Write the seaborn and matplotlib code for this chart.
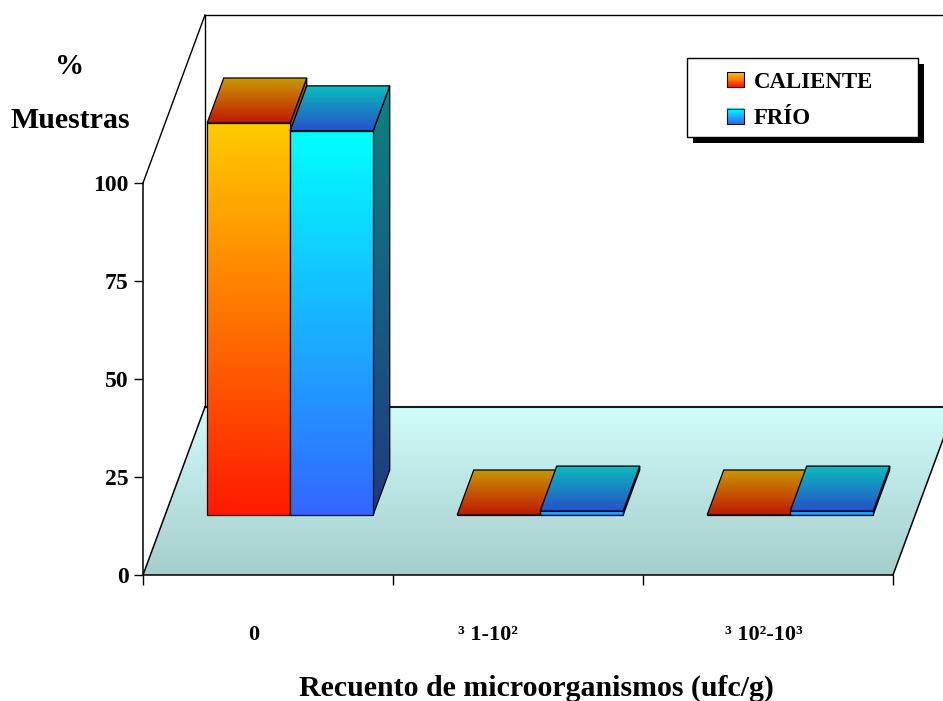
import numpy as np
import pandas as pd
import matplotlib
matplotlib.use("Agg")
import matplotlib.pyplot as plt
from matplotlib.patches import Polygon, Rectangle
from matplotlib.colors import LinearSegmentedColormap
from matplotlib.legend_handler import HandlerBase
import seaborn as sns

# ---- data -------------------------------------------------------------
categories = ["0", "³ 1-10²", "³ 10²-10³"]
series = ["CALIENTE", "FRÍO"]
caliente = [100, 0, 0]
frio = [98, 1, 1]
y_ticks = [0, 25, 50, 75, 100]
label_shift = [-0.056, -0.12, -0.016]

plt.rcParams["font.family"] = ["Liberation Serif", "DejaVu Serif"]
plt.rcParams["font.weight"] = "bold"

df = pd.DataFrame({
    "recuento": categories * 2,
    "grupo": [series[0]] * len(categories) + [series[1]] * len(categories),
    "pct": caliente + frio,
})

# colour ramps (top colour, bottom colour) for each face of each series
front_cols = {"CALIENTE": ("#FFCC00", "#FF1A00"), "FRÍO": ("#00FFFF", "#3366FF")}
top_cols = {"CALIENTE": ("#C89A00", "#C01800"), "FRÍO": ("#08BEBE", "#2850C8")}
side_cols = {"CALIENTE": ("#A05000", "#801000"), "FRÍO": ("#108080", "#203A80")}
floor_cols = ("#D0FCFA", "#A5CDCC")

W, H = 943, 701
fig = plt.figure(figsize=(W / 100, H / 100), dpi=100)
ax = fig.add_axes([143 / W, 1 - 575 / H, 750 / W, 392 / H])
ax.patch.set_alpha(0)

sns.barplot(data=df, x="recuento", y="pct", hue="grupo", order=categories,
            hue_order=series, width=0.664, dodge=True, saturation=1,
            legend=False, ax=ax)

# oblique depth vector of the floor, in data units
DX, DY = 62 / 250, 168 / 3.92
F1, F2 = 60 / 168, 105 / 168  # front / back depth of the columns


def gradient(poly_xy, top, bottom, z):
    clip = Polygon(poly_xy, closed=True, transform=ax.transData)
    xs = [p[0] for p in poly_xy]
    ys = [p[1] for p in poly_xy]
    cmap = LinearSegmentedColormap.from_list("ramp", [bottom, top])
    im = ax.imshow(np.linspace(0, 1, 256).reshape(-1, 1), cmap=cmap,
                   origin="lower", aspect="auto", interpolation="bilinear",
                   extent=(min(xs), max(xs), min(ys), max(ys)), zorder=z)
    im.set_clip_box(fig.bbox)
    im.set_clip_path(clip)
    return im


def outline(poly_xy, z, lw=0.9):
    ax.add_patch(Polygon(poly_xy, closed=True, facecolor="none",
                         edgecolor="black", lw=lw, clip_on=False, zorder=z))


# floor and walls
floor = [(-0.5, 0), (2.5, 0), (2.5 + DX, DY), (-0.5 + DX, DY)]
gradient(floor, floor_cols[0], floor_cols[1], 1)
ax.plot([-0.5, -0.5 + DX], [0, DY], color="black", lw=1.1, clip_on=False, zorder=2)
ax.plot([2.5, 2.5 + DX], [0, DY], color="black", lw=1.1, clip_on=False, zorder=2)
ax.plot([-0.5 + DX, 2.5 + DX], [DY, DY], color="#1A1A1A", lw=1.5,
        clip_on=False, zorder=2)
ax.plot([-0.5 + DX, -0.5 + DX, 2.5 + DX], [DY, 100 + DY, 100 + DY],
        color="black", lw=1.0, clip_on=False, zorder=2)
ax.plot([-0.5, -0.5 + DX], [100, 100 + DY], color="black", lw=1.0,
        clip_on=False, zorder=2)

# columns: move each seaborn bar back into the box and give it depth
for j, (name, cont) in enumerate(zip(series, ax.containers)):
    for i, bar in enumerate(cont.patches):
        x0, w, h = bar.get_x(), bar.get_width(), bar.get_height()
        xa, xb = x0 + F1 * DX, x0 + w + F1 * DX
        xc, xd = x0 + F2 * DX, x0 + w + F2 * DX
        ya, yb = F1 * DY, F2 * DY
        z = 10 + i * 10 + j * 5
        side = [(xb, ya), (xb, ya + h), (xd, yb + h), (xd, yb)]
        top = [(xa, ya + h), (xb, ya + h), (xd, yb + h), (xc, yb + h)]
        front = [(xa, ya), (xb, ya), (xb, ya + h), (xa, ya + h)]
        if h > 0:
            gradient(side, *side_cols[name], z)
            outline(side, z + 0.5)
            gradient(front, *front_cols[name], z + 1)
        bar.set_x(xa)
        bar.set_y(ya)
        bar.set_facecolor("none")
        bar.set_edgecolor("black")
        bar.set_linewidth(0.9)
        bar.set_clip_on(False)
        bar.set_zorder(z + 1.5)
        gradient(top, *top_cols[name], z + 2)
        outline(top, z + 2.5)

ax.set_xlim(-0.5, 2.5)
ax.set_ylim(0, 100)

for s in ("top", "right"):
    ax.spines[s].set_visible(False)
for s in ("left", "bottom"):
    ax.spines[s].set_linewidth(1.1)
    ax.spines[s].set_zorder(3)

ax.set_yticks(y_ticks)
ax.set_yticklabels([str(t) for t in y_ticks], fontsize=17, fontweight="bold")
ax.tick_params(axis="y", length=6.5, width=1, pad=4, direction="out")
ax.set_xticks([-0.5, 0.5, 1.5, 2.5])
ax.set_xticklabels([])
ax.tick_params(axis="x", length=7.5, width=1, direction="out")
ax.set_xlabel("")
ax.set_ylabel("")

for i, (lab, sh) in enumerate(zip(categories, label_shift)):
    ax.annotate(lab, xy=(i + sh, 0), xycoords=("data", "axes fraction"),
                xytext=(0, -43), textcoords="offset points", ha="center",
                va="center", fontsize=16, fontweight="bold")

fig.text(70 / W, 1 - 67 / H, "%", ha="center", va="center", fontsize=21,
         fontweight="bold")
fig.text(70 / W, 1 - 120 / H, "Muestras", ha="center", va="center",
         fontsize=21.5, fontweight="bold")
fig.text(536 / W, 1 - 688 / H, "Recuento de microorganismos (ufc/g)",
         ha="center", va="center", fontsize=21.5, fontweight="bold")


# legend with gradient swatches
class GradientSwatch(HandlerBase):
    def __init__(self, top, bottom):
        super().__init__()
        self.cmap = LinearSegmentedColormap.from_list("sw", [bottom, top])

    def create_artists(self, legend, orig_handle, xdescent, ydescent,
                       width, height, fontsize, trans):
        n = 14
        arts = []
        for k in range(n):
            arts.append(Rectangle((-xdescent, -ydescent + height * k / n),
                                  width, height / n + 0.05,
                                  facecolor=self.cmap(k / (n - 1)),
                                  edgecolor="none", transform=trans))
        arts.append(Rectangle((-xdescent, -ydescent), width, height,
                              facecolor="none", edgecolor="black", lw=0.8,
                              transform=trans))
        return arts


fig.patches.append(Rectangle((693 / W, 1 - 143 / H), 231 / W, 79 / H,
                             transform=fig.transFigure, facecolor="black",
                             edgecolor="none", zorder=1))
fig.patches.append(Rectangle((687 / W, 1 - 137 / H), 231 / W, 79 / H,
                             transform=fig.transFigure, facecolor="white",
                             edgecolor="black", lw=1, zorder=1.1))

handles = [Rectangle((0, 0), 1, 1) for _ in series]
fig.legend(handles, series, loc="center",
           bbox_to_anchor=(800 / W, 1 - 100.5 / H), frameon=False,
           prop={"family": "Liberation Serif", "weight": "bold", "size": 16.5},
           handlelength=0.74, handleheight=0.66, handletextpad=0.45,
           labelspacing=0.68,
           handler_map={handles[k]: GradientSwatch(*front_cols[s])
                        for k, s in enumerate(series)})

fig.savefig("out.png", dpi=100, facecolor="white")
